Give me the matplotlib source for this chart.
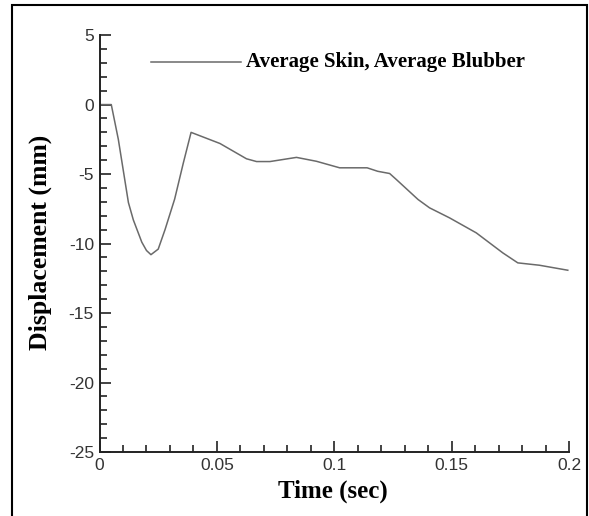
import numpy as np
import matplotlib
matplotlib.use('Agg')
import matplotlib.pyplot as plt
from matplotlib.patches import Rectangle
from matplotlib.ticker import MultipleLocator

# data
time_s = [0.0, 0.005, 0.008, 0.0123, 0.0144, 0.018, 0.0200, 0.0219, 0.025, 0.0279, 0.032,
          0.0357, 0.039, 0.0513, 0.0626, 0.0669, 0.0726, 0.0839, 0.0924, 0.1023,
          0.1140, 0.1185, 0.1236, 0.1265, 0.1357, 0.1406, 0.1491, 0.1605, 0.1718,
          0.1782, 0.1874, 0.1995]
disp_mm = [0.0, 0.0, -2.5, -7.05, -8.3, -9.9, -10.5, -10.8, -10.4, -9.0, -6.8,
           -4.2, -2.0, -2.8, -3.9, -4.1, -4.1, -3.8, -4.08, -4.55,
           -4.55, -4.8, -4.96, -5.4, -6.83, -7.43, -8.15, -9.23, -10.67,
           -11.39, -11.56, -11.92]
series_name = 'Average Skin, Average Blubber'

serif = ['Liberation Serif', 'DejaVu Serif']
sans = ['Liberation Sans', 'DejaVu Sans']

fig = plt.figure(figsize=(5.89, 5.16), dpi=100)
ax = fig.add_axes([0.169, 0.124, 0.797, 0.808])

ax.plot(time_s, disp_mm, color='#6a6a6a', lw=1.1)

ax.set_xlim(0, 0.2)
ax.set_ylim(-25, 5)
ax.xaxis.set_minor_locator(MultipleLocator(0.01))
ax.yaxis.set_minor_locator(MultipleLocator(1))
ax.set_xticks([0, 0.05, 0.1, 0.15, 0.2])
ax.set_xticklabels(['0', '0.05', '0.1', '0.15', '0.2'])
ax.set_yticks([5, 0, -5, -10, -15, -20, -25])
ax.set_yticklabels(['5', '0', '-5', '-10', '-15', '-20', '-25'])

ax.tick_params(which='major', direction='in', length=8, width=1.2, labelsize=12.5,
               color='#222222', pad=4)
ax.tick_params(which='minor', direction='in', length=5, width=1.2, color='#222222')
for lab in ax.get_xticklabels() + ax.get_yticklabels():
    lab.set_family(sans)
    lab.set_color('#333333')

for s in ['top', 'right']:
    ax.spines[s].set_visible(False)
for s in ['left', 'bottom']:
    ax.spines[s].set_linewidth(1.4)
    ax.spines[s].set_color('#222222')

# legend drawn by hand, as in the original
ax.plot([0.022, 0.0602], [3.05, 3.05], color='#6a6a6a', lw=1.1, clip_on=False)
ax.text(0.0625, 3.05, series_name, family=serif, fontweight='bold', fontsize=15,
        va='center', ha='left')

fig.text(333 / 589, 1 - 491 / 516, 'Time (sec)', family=serif, fontweight='bold',
         fontsize=18, ha='center', va='center')
fig.text(40 / 589, 1 - 242 / 516, 'Displacement (mm)', family=serif, fontweight='bold',
         fontsize=18.5, ha='center', va='center', rotation=90)

# outer frame
fig.patches.append(Rectangle((12 / 589, -0.1), 575 / 589, 1.1 - 5 / 516,
                             transform=fig.transFigure, fill=False, lw=1.5,
                             edgecolor='black'))

fig.savefig('out.png', dpi=100)
